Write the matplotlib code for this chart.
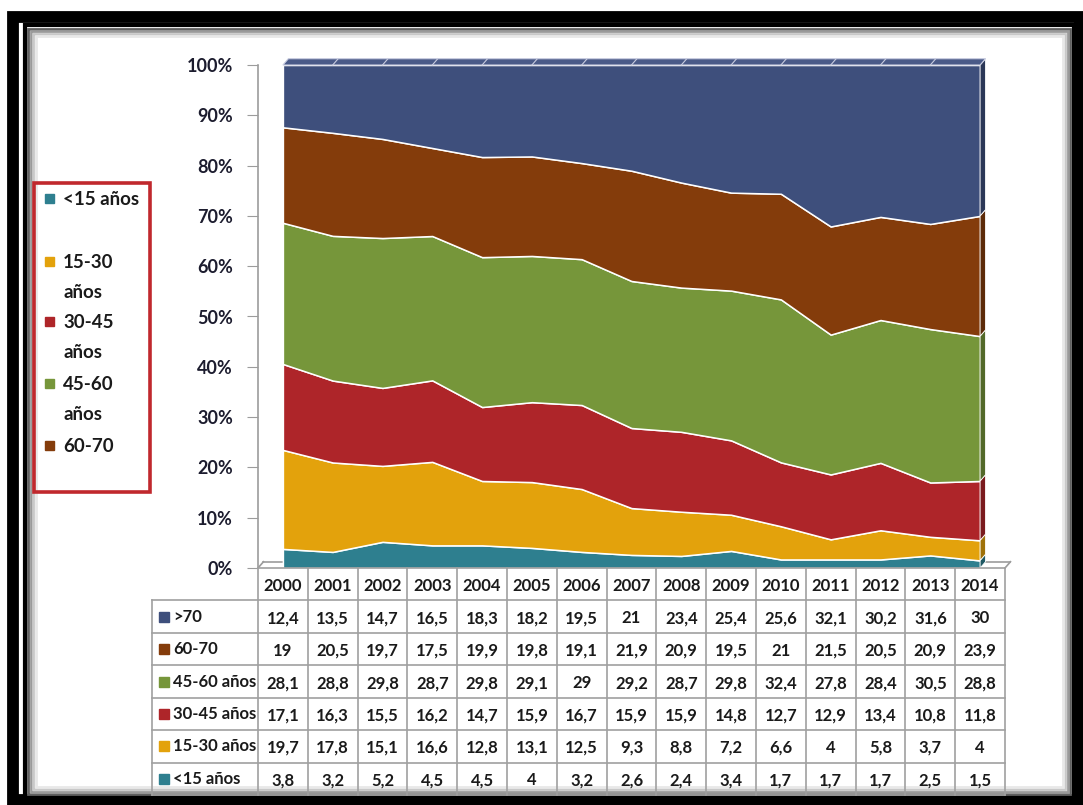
import matplotlib.pyplot as plt
from matplotlib.patches import Polygon, Rectangle
import numpy as np

plt.rcParams['font.family'] = ['Lato', 'DejaVu Sans']

years = ['2000', '2001', '2002', '2003', '2004', '2005', '2006', '2007',
         '2008', '2009', '2010', '2011', '2012', '2013', '2014']
age_lt15 = [3.8, 3.2, 5.2, 4.5, 4.5, 4, 3.2, 2.6, 2.4, 3.4, 1.7, 1.7, 1.7, 2.5, 1.5]
age_15_30 = [19.7, 17.8, 15.1, 16.6, 12.8, 13.1, 12.5, 9.3, 8.8, 7.2, 6.6, 4, 5.8, 3.7, 4]
age_30_45 = [17.1, 16.3, 15.5, 16.2, 14.7, 15.9, 16.7, 15.9, 15.9, 14.8, 12.7, 12.9, 13.4, 10.8, 11.8]
age_45_60 = [28.1, 28.8, 29.8, 28.7, 29.8, 29.1, 29, 29.2, 28.7, 29.8, 32.4, 27.8, 28.4, 30.5, 28.8]
age_60_70 = [19, 20.5, 19.7, 17.5, 19.9, 19.8, 19.1, 21.9, 20.9, 19.5, 21, 21.5, 20.5, 20.9, 23.9]
age_gt70 = [12.4, 13.5, 14.7, 16.5, 18.3, 18.2, 19.5, 21, 23.4, 25.4, 25.6, 32.1, 30.2, 31.6, 30]

# bottom to top
series = [age_lt15, age_15_30, age_30_45, age_45_60, age_60_70, age_gt70]
row_labels = ['<15 años', '15-30 años', '30-45 años', '45-60 años', '60-70', '>70']
legend_labels = ['<15 años', '15-30\naños', '30-45\naños', '45-60\naños', '60-70']
colors = ['#2E7F8F', '#E3A20C', '#AE2529', '#76963A', '#843C0B', '#3E4F7C']

W, H = 1083, 805
fig = plt.figure(figsize=(W / 100, H / 100), dpi=100)

# background / frame, pixel coords
bg = fig.add_axes([0, 0, 1, 1])
bg.set_xlim(0, W)
bg.set_ylim(H, 0)
bg.axis('off')
bg.add_patch(Rectangle((13, 17.5), 1067, 782.5, fill=False, ec='black', lw=8.5))
bg.add_patch(Rectangle((24.5, 25.5), 1049, 772, fill=False, ec='black', lw=3))
for off, c in [(3.5, '#606060'), (6, '#9a9a9a'), (8.5, '#c8c8c8'), (11, '#e8e8e8')]:
    bg.add_patch(Rectangle((24.5 + off, 25.5 + off), 1049 - 2 * off, 772 - 2 * off,
                           fill=False, ec=c, lw=2))

# legend (only five entries, as in the original)
bg.add_patch(Rectangle((34, 183), 116, 309, fill=False, ec='#C0282D', lw=2.6))
ly = [199, 262, 322, 384, 446]
for lab, col, y in zip(legend_labels, colors, ly):
    bg.add_patch(Rectangle((45, y - 5), 9, 9, color=col))
    for k, line in enumerate(lab.split('\n')):
        bg.text(63, y + k * 30.5, line, fontsize=13.5, fontweight='bold',
                color='#1a1a1a', va='center', ha='left')

# main area chart
ax = fig.add_axes([258 / W, (H - 568) / H, (1005 - 258) / W, (568 - 65) / H])
x = np.arange(len(years))
vals = np.array(series, dtype=float)
pct = vals / vals.sum(axis=0) * 100

dx, dy = 0.11, 1.25
gray = '#9c9c9c'
# floor
ax.plot([-0.5 + dx, 14.5 + dx], [dy, dy], color=gray, lw=1.2, clip_on=False, zorder=0)
ax.plot([14.5, 14.5 + dx], [0, dy], color=gray, lw=1.2, clip_on=False, zorder=0)
ax.plot([-0.5, -0.5 + dx], [0, dy], color=gray, lw=1.2, clip_on=False, zorder=0)

ax.stackplot(x, *pct, colors=colors, edgecolor='white', linewidth=1.1, zorder=2)

# right side face for depth
cum = np.cumsum(pct, axis=0)
lows = np.vstack([np.zeros(len(years)), cum[:-1]])
for i, col in enumerate(colors):
    b, t = lows[i, -1], cum[i, -1]
    rgb = np.array(plt.matplotlib.colors.to_rgb(col)) * 0.7
    ax.add_patch(Polygon([(14, b), (14, t), (14 + dx, t + dy), (14 + dx, b + dy)],
                         closed=True, fc=rgb, ec='white', lw=0.6, clip_on=False, zorder=3))
# top face
ax.add_patch(Polygon([(0, 100), (14, 100), (14 + dx, 100 + dy), (dx, 100 + dy)],
                     closed=True, fc='#4A5A88', ec='#c8cce0', lw=0.8, clip_on=False, zorder=3))
for i in range(1, 14):
    ax.plot([i, i + dx], [100, 100 + dy], color='#c8cce0', lw=0.8, clip_on=False, zorder=4)

ax.set_xlim(-0.5, 14.5)
ax.set_ylim(0, 100)
ax.set_xticks([])
ax.set_yticks(np.arange(0, 101, 10))
ax.set_yticklabels([f'{v}%' for v in range(0, 101, 10)], fontsize=13,
                   fontweight='bold', color='#1c1c2e')
ax.tick_params(axis='y', direction='out', length=8, color=gray, pad=10)
for s in ['top', 'right', 'bottom']:
    ax.spines[s].set_visible(False)
ax.spines['left'].set_color(gray)
ax.spines['left'].set_linewidth(1.2)
ax.patch.set_alpha(0)

# data table below
tax = fig.add_axes([152 / W, (H - 795) / H, (1005 - 152) / W, (795 - 568) / H])
left = -0.5 - (258 - 152) / 49.8
tax.set_xlim(left, 14.5)
tax.set_ylim(7, 0)
tax.axis('off')
lc = '#a0a0a0'
tax.plot([-0.5, 14.5], [0, 0], color=lc, lw=1.2, clip_on=False)
for r in range(1, 8):
    tax.plot([left, 14.5], [r, r], color=lc, lw=1.2, clip_on=False)
tax.plot([left, left], [1, 7], color=lc, lw=1.2, clip_on=False)
for k in range(16):
    tax.plot([-0.5 + k, -0.5 + k], [0, 7], color=lc, lw=1.2, clip_on=False)

for i, yr in enumerate(years):
    tax.text(i, 0.55, yr, ha='center', va='center', fontsize=12,
             fontweight='bold', color='#1a1a1a')


def fmt(v):
    return str(int(v)) if v == int(v) else str(v).replace('.', ',')


for r, idx in enumerate(range(len(series) - 1, -1, -1), start=1):
    tax.plot(left + 0.24, r + 0.5, marker='s', ms=6.5, color=colors[idx], ls='none')
    tax.text(left + 0.43, r + 0.5, row_labels[idx], ha='left', va='center',
             fontsize=12, fontweight='bold', color='#1a1a1a')
    for i, v in enumerate(series[idx]):
        tax.text(i, r + 0.55, fmt(v), ha='center', va='center', fontsize=12,
                 fontweight='bold', color='#1a1a1a')

fig.savefig('out.png', dpi=100, facecolor='white')
